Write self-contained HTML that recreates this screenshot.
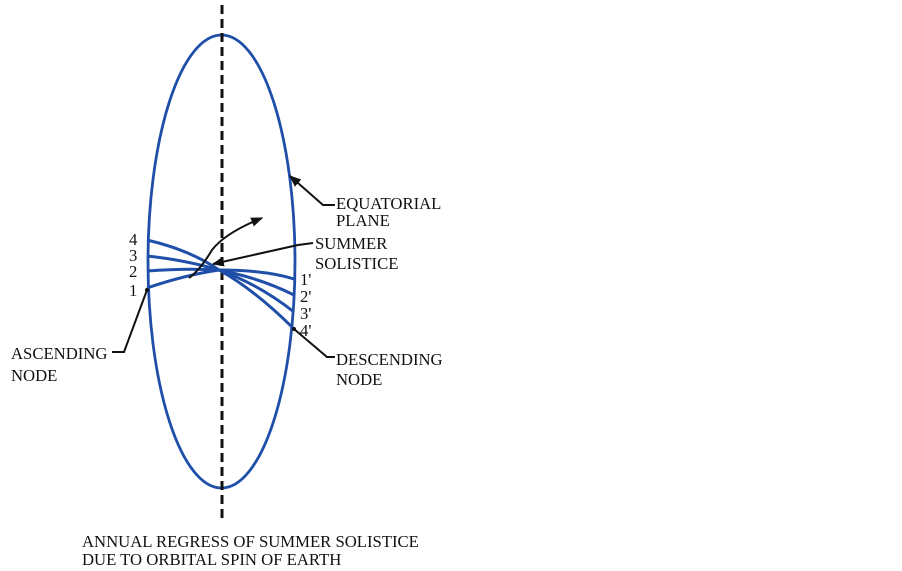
<!DOCTYPE html>
<html><head><style>
body{margin:0;background:#fff;}
svg{display:block;}
text{font-family:"Liberation Serif",serif;font-size:16.7px;fill:#111;}
</style></head><body>
<svg width="902" height="571" viewBox="0 0 902 571">
<defs>
<marker id="ah" viewBox="0 0 10 10" refX="9" refY="5" markerWidth="6" markerHeight="6" orient="auto-start-reverse"><path d="M0,1 L10,5 L0,9 Z" fill="#111"/></marker>
</defs>
<ellipse cx="221.5" cy="261.5" rx="73.5" ry="226.5" fill="none" stroke="#1f4fa8" stroke-width="2.8"/>
<line x1="222" y1="5" x2="222" y2="518" stroke="#111" stroke-width="3" stroke-dasharray="9,5"/>
<g fill="none" stroke="#1f4fa8" stroke-width="3">
<path d="M147,240 Q190,250 219,270 Q255,290 294,329"/>
<path d="M147,256 Q185,260 219,270 Q260,285 294,312"/>
<path d="M147,271 Q185,268 219,270 Q260,278 294,295"/>
<path d="M147,288 Q185,275 219,270 Q265,270 294,279"/>
</g>
<g fill="none" stroke="#111" stroke-width="2">
<path d="M189,278 Q200,270 212,250 Q225,233 262,218" marker-end="url(#ah)"/>
<path d="M313,243 L298,245 L213,264" marker-end="url(#ah)"/>
<path d="M335,205 L323,205 L290,176" marker-end="url(#ah)"/>
<path d="M335,357 L327,357 L294,329"/>
<path d="M112,352 L124,352 L147,290"/>
</g>
<circle cx="147" cy="290" r="2" fill="#111"/>
<circle cx="294" cy="329" r="2" fill="#111"/>
<text x="129" y="245">4</text>
<text x="129" y="261">3</text>
<text x="129" y="277">2</text>
<text x="129" y="296">1</text>
<text x="300" y="285">1'</text>
<text x="300" y="302">2'</text>
<text x="300" y="319">3'</text>
<text x="300" y="336">4'</text>
<text x="336" y="209">EQUATORIAL</text>
<text x="336" y="226">PLANE</text>
<text x="315" y="249">SUMMER</text>
<text x="315" y="269">SOLISTICE</text>
<text x="336" y="365">DESCENDING</text>
<text x="336" y="385">NODE</text>
<text x="11" y="359">ASCENDING</text>
<text x="11" y="381">NODE</text>
<text x="82" y="547">ANNUAL REGRESS OF SUMMER SOLISTICE</text>
<text x="82" y="565">DUE TO ORBITAL SPIN OF EARTH</text>
</svg>
</body></html>
